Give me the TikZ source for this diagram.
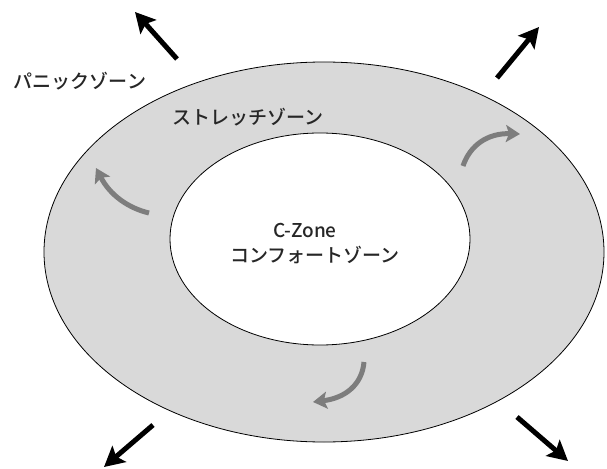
\documentclass[tikz,border=0pt]{standalone}
\usepackage{fontspec}
\newfontfamily\jp{Noto Sans CJK JP Medium}
\usetikzlibrary{arrows.meta}
\definecolor{zonegray}{RGB}{217,217,217}
\definecolor{curvegray}{RGB}{125,125,125}
\begin{document}
\begin{tikzpicture}[x=1pt,y=-1pt,
  zone/.style={draw=black,line width=0.8pt},
  lbl/.style={font=\jp\fontsize{19}{21}\selectfont,text=black!85,inner sep=0pt},
  outarrow/.style={line width=5pt,-{Stealth[length=20pt,width=21pt,inset=4pt]}},
  turnarrow/.style={line width=5pt,curvegray,-{Stealth[length=14pt,width=17pt,inset=3pt]}}]
\useasboundingbox[fill=white] (0,0) rectangle (607,468);
% zones
\draw[zone,fill=zonegray] (324,252) ellipse [x radius=280pt,y radius=190pt];
\draw[zone,fill=white] (320,239) ellipse [x radius=150pt,y radius=106pt];
% labels
\node[lbl] (panic) at (80,81) {パニックゾーン};
\node[lbl] (stretch) at (248,117) {ストレッチゾーン};
\node[lbl] (czone) at (305,231) {C-Zone};
\node[lbl] (comfort) at (315,255) {コンフォートゾーン};
% outward arrows
\coordinate (tlA) at (177,59); \coordinate (tlB) at (135,12);
\coordinate (trA) at (497,78); \coordinate (trB) at (539,27);
\coordinate (blA) at (153,425); \coordinate (blB) at (104,467);
\coordinate (brA) at (517,417); \coordinate (brB) at (568,461);
\draw[outarrow] (tlA) -- (tlB);
\draw[outarrow] (trA) -- (trB);
\draw[outarrow] (blA) -- (blB);
\draw[outarrow] (brA) -- (brB);
% turning arrows
\coordinate (lA) at (149,213); \coordinate (lB) at (96,168);
\coordinate (rA) at (463,166); \coordinate (rB) at (520,134);
\coordinate (bA) at (364,362); \coordinate (bB) at (313,402);
\draw[turnarrow] (lA) .. controls (128,208) and (110,195) .. (lB);
\draw[turnarrow] (rA) .. controls (470,145) and (488,133) .. (rB);
\draw[turnarrow] (bA) .. controls (362,385) and (345,398) .. (bB);
\end{tikzpicture}
\end{document}
